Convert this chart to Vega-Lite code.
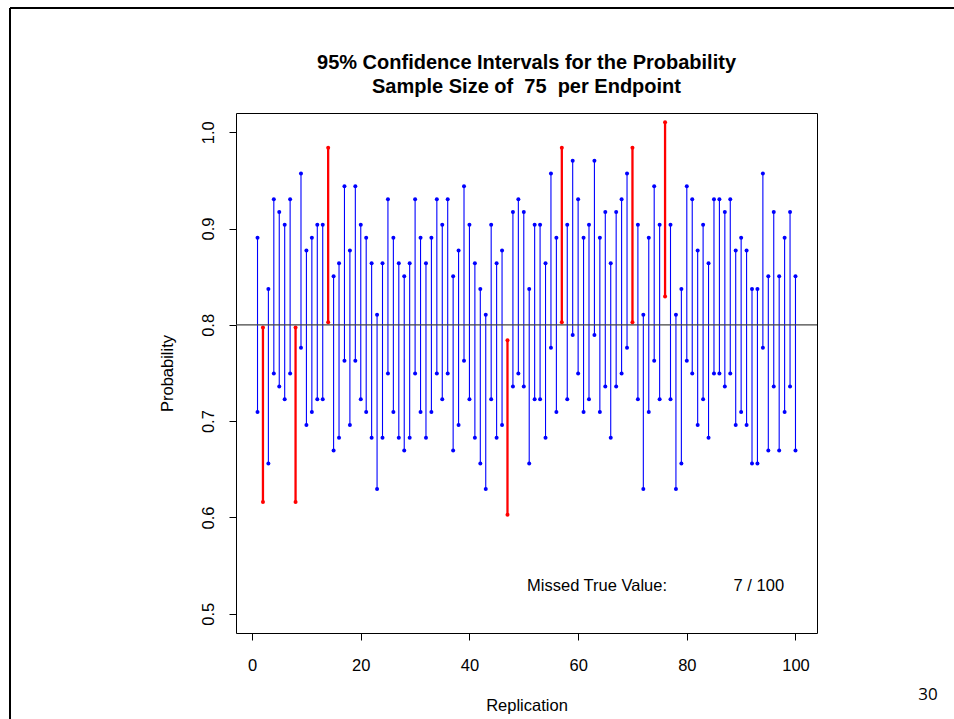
{
  "$schema": "https://vega.github.io/schema/vega-lite/v6.json",
  "width": 581,
  "height": 520,
  "autosize": {"type": "none"},
  "padding": {"left": 236, "top": 113, "right": 137, "bottom": 86},
  "background": "white",
  "config": {
    "font": "Liberation Sans",
    "view": {"stroke": "black", "strokeWidth": 1}
  },
  "title": {
    "text": ["95% Confidence Intervals for the Probability", "Sample Size of \u00a075 \u00a0per Endpoint"],
    "font": "Liberation Sans",
    "fontSize": 20,
    "fontWeight": "bold",
    "color": "black",
    "anchor": "middle",
    "frame": "group",
    "lineHeight": 24.5,
    "offset": 18,
    "dy": 108
  },
  "datasets": {
    "ci": [
      {"rep": 1, "lower": 0.7095, "upper": 0.8905},
      {"rep": 2, "lower": 0.6161, "upper": 0.7972},
      {"rep": 3, "lower": 0.6561, "upper": 0.8372},
      {"rep": 4, "lower": 0.7495, "upper": 0.9305},
      {"rep": 5, "lower": 0.7361, "upper": 0.9172},
      {"rep": 6, "lower": 0.7228, "upper": 0.9039},
      {"rep": 7, "lower": 0.7495, "upper": 0.9305},
      {"rep": 8, "lower": 0.6161, "upper": 0.7972},
      {"rep": 9, "lower": 0.7761, "upper": 0.9572},
      {"rep": 10, "lower": 0.6961, "upper": 0.8772},
      {"rep": 11, "lower": 0.7095, "upper": 0.8905},
      {"rep": 12, "lower": 0.7228, "upper": 0.9039},
      {"rep": 13, "lower": 0.7228, "upper": 0.9039},
      {"rep": 14, "lower": 0.8028, "upper": 0.9839},
      {"rep": 15, "lower": 0.6695, "upper": 0.8505},
      {"rep": 16, "lower": 0.6828, "upper": 0.8639},
      {"rep": 17, "lower": 0.7628, "upper": 0.9439},
      {"rep": 18, "lower": 0.6961, "upper": 0.8772},
      {"rep": 19, "lower": 0.7628, "upper": 0.9439},
      {"rep": 20, "lower": 0.7228, "upper": 0.9039},
      {"rep": 21, "lower": 0.7095, "upper": 0.8905},
      {"rep": 22, "lower": 0.6828, "upper": 0.8639},
      {"rep": 23, "lower": 0.6295, "upper": 0.8105},
      {"rep": 24, "lower": 0.6828, "upper": 0.8639},
      {"rep": 25, "lower": 0.7495, "upper": 0.9305},
      {"rep": 26, "lower": 0.7095, "upper": 0.8905},
      {"rep": 27, "lower": 0.6828, "upper": 0.8639},
      {"rep": 28, "lower": 0.6695, "upper": 0.8505},
      {"rep": 29, "lower": 0.6828, "upper": 0.8639},
      {"rep": 30, "lower": 0.7495, "upper": 0.9305},
      {"rep": 31, "lower": 0.7095, "upper": 0.8905},
      {"rep": 32, "lower": 0.6828, "upper": 0.8639},
      {"rep": 33, "lower": 0.7095, "upper": 0.8905},
      {"rep": 34, "lower": 0.7495, "upper": 0.9305},
      {"rep": 35, "lower": 0.7228, "upper": 0.9039},
      {"rep": 36, "lower": 0.7495, "upper": 0.9305},
      {"rep": 37, "lower": 0.6695, "upper": 0.8505},
      {"rep": 38, "lower": 0.6961, "upper": 0.8772},
      {"rep": 39, "lower": 0.7628, "upper": 0.9439},
      {"rep": 40, "lower": 0.7228, "upper": 0.9039},
      {"rep": 41, "lower": 0.6828, "upper": 0.8639},
      {"rep": 42, "lower": 0.6561, "upper": 0.8372},
      {"rep": 43, "lower": 0.6295, "upper": 0.8105},
      {"rep": 44, "lower": 0.7228, "upper": 0.9039},
      {"rep": 45, "lower": 0.6828, "upper": 0.8639},
      {"rep": 46, "lower": 0.6961, "upper": 0.8772},
      {"rep": 47, "lower": 0.6028, "upper": 0.7839},
      {"rep": 48, "lower": 0.7361, "upper": 0.9172},
      {"rep": 49, "lower": 0.7495, "upper": 0.9305},
      {"rep": 50, "lower": 0.7361, "upper": 0.9172},
      {"rep": 51, "lower": 0.6561, "upper": 0.8372},
      {"rep": 52, "lower": 0.7228, "upper": 0.9039},
      {"rep": 53, "lower": 0.7228, "upper": 0.9039},
      {"rep": 54, "lower": 0.6828, "upper": 0.8639},
      {"rep": 55, "lower": 0.7761, "upper": 0.9572},
      {"rep": 56, "lower": 0.7095, "upper": 0.8905},
      {"rep": 57, "lower": 0.8028, "upper": 0.9839},
      {"rep": 58, "lower": 0.7228, "upper": 0.9039},
      {"rep": 59, "lower": 0.7895, "upper": 0.9705},
      {"rep": 60, "lower": 0.7495, "upper": 0.9305},
      {"rep": 61, "lower": 0.7095, "upper": 0.8905},
      {"rep": 62, "lower": 0.7228, "upper": 0.9039},
      {"rep": 63, "lower": 0.7895, "upper": 0.9705},
      {"rep": 64, "lower": 0.7095, "upper": 0.8905},
      {"rep": 65, "lower": 0.7361, "upper": 0.9172},
      {"rep": 66, "lower": 0.6828, "upper": 0.8639},
      {"rep": 67, "lower": 0.7361, "upper": 0.9172},
      {"rep": 68, "lower": 0.7495, "upper": 0.9305},
      {"rep": 69, "lower": 0.7761, "upper": 0.9572},
      {"rep": 70, "lower": 0.8028, "upper": 0.9839},
      {"rep": 71, "lower": 0.7228, "upper": 0.9039},
      {"rep": 72, "lower": 0.6295, "upper": 0.8105},
      {"rep": 73, "lower": 0.7095, "upper": 0.8905},
      {"rep": 74, "lower": 0.7628, "upper": 0.9439},
      {"rep": 75, "lower": 0.7228, "upper": 0.9039},
      {"rep": 76, "lower": 0.8295, "upper": 1.0105},
      {"rep": 77, "lower": 0.7228, "upper": 0.9039},
      {"rep": 78, "lower": 0.6295, "upper": 0.8105},
      {"rep": 79, "lower": 0.6561, "upper": 0.8372},
      {"rep": 80, "lower": 0.7628, "upper": 0.9439},
      {"rep": 81, "lower": 0.7495, "upper": 0.9305},
      {"rep": 82, "lower": 0.6961, "upper": 0.8772},
      {"rep": 83, "lower": 0.7228, "upper": 0.9039},
      {"rep": 84, "lower": 0.6828, "upper": 0.8639},
      {"rep": 85, "lower": 0.7495, "upper": 0.9305},
      {"rep": 86, "lower": 0.7495, "upper": 0.9305},
      {"rep": 87, "lower": 0.7361, "upper": 0.9172},
      {"rep": 88, "lower": 0.7495, "upper": 0.9305},
      {"rep": 89, "lower": 0.6961, "upper": 0.8772},
      {"rep": 90, "lower": 0.7095, "upper": 0.8905},
      {"rep": 91, "lower": 0.6961, "upper": 0.8772},
      {"rep": 92, "lower": 0.6561, "upper": 0.8372},
      {"rep": 93, "lower": 0.6561, "upper": 0.8372},
      {"rep": 94, "lower": 0.7761, "upper": 0.9572},
      {"rep": 95, "lower": 0.6695, "upper": 0.8505},
      {"rep": 96, "lower": 0.7361, "upper": 0.9172},
      {"rep": 97, "lower": 0.6695, "upper": 0.8505},
      {"rep": 98, "lower": 0.7095, "upper": 0.8905},
      {"rep": 99, "lower": 0.7361, "upper": 0.9172},
      {"rep": 100, "lower": 0.6695, "upper": 0.8505}
    ],
    "truth": [{"p": 0.8}],
    "noteLeft": [{"x": 50.6, "y": 0.5288, "label": "Missed True Value:"}],
    "noteRight": [{"x": 97.9, "y": 0.5288, "label": "7 / 100"}],
    "page": [{"x": 124.4, "y": 0.4156, "label": "30"}],
    "frame": [
      {"x": -44.55, "x2": 140, "y": 1.129, "y2": 1.129},
      {"x": -44.55, "x2": -44.55, "y": 1.129, "y2": 0.3}
    ]
  },
  "layer": [
    {
      "data": {"name": "ci"},
      "mark": {"type": "rule"},
      "encoding": {
        "x": {
          "field": "rep", "type": "quantitative",
          "scale": {"domain": [-2.96, 103.96], "nice": false, "zero": false},
          "axis": {
            "title": "Replication", "values": [0, 20, 40, 60, 80, 100],
            "domain": false, "grid": false, "ticks": true, "tickSize": 7, "tickColor": "black",
            "labelFontSize": 16.5, "labelColor": "black", "labelPadding": 17, "labelFont": "Liberation Sans",
            "titleFontSize": 16.5, "titleFontWeight": "normal", "titleColor": "black", "titlePadding": 24, "titleFont": "Liberation Sans"
          }
        },
        "y": {
          "field": "lower", "type": "quantitative",
          "scale": {"domain": [0.48, 1.02], "nice": false, "zero": false},
          "axis": {
            "title": "Probability", "values": [0.5, 0.6, 0.7, 0.8, 0.9, 1.0], "format": ".1f",
            "domain": false, "grid": false, "ticks": true, "tickSize": 7, "tickColor": "black",
            "labelFontSize": 16.5, "labelColor": "black", "labelAngle": 270, "labelAlign": "center", "labelBaseline": "alphabetic", "labelPadding": 16, "labelFont": "Liberation Sans",
            "titleFontSize": 16.5, "titleFontWeight": "normal", "titleColor": "black", "titlePadding": 25, "titleFont": "Liberation Sans"
          }
        },
        "y2": {"field": "upper"},
        "color": {"condition": {"test": "datum.upper < 0.8 || datum.lower > 0.8", "value": "#FF0000"}, "value": "#0000FF"},
        "strokeWidth": {"condition": {"test": "datum.upper < 0.8 || datum.lower > 0.8", "value": 2.3}, "value": 1.1}
      }
    },
    {
      "data": {"name": "ci"},
      "mark": {"type": "point", "filled": true, "opacity": 1, "size": 16},
      "encoding": {
        "x": {"field": "rep", "type": "quantitative"},
        "y": {"field": "lower", "type": "quantitative"},
        "color": {"condition": {"test": "datum.upper < 0.8 || datum.lower > 0.8", "value": "#FF0000"}, "value": "#0000FF"}
      }
    },
    {
      "data": {"name": "ci"},
      "mark": {"type": "point", "filled": true, "opacity": 1, "size": 16},
      "encoding": {
        "x": {"field": "rep", "type": "quantitative"},
        "y": {"field": "upper", "type": "quantitative"},
        "color": {"condition": {"test": "datum.upper < 0.8 || datum.lower > 0.8", "value": "#FF0000"}, "value": "#0000FF"}
      }
    },
    {
      "data": {"name": "truth"},
      "mark": {"type": "rule", "color": "#444444", "strokeWidth": 1.3},
      "encoding": {"y": {"field": "p", "type": "quantitative"}}
    },
    {
      "data": {"name": "noteLeft"},
      "mark": {"type": "text", "fontSize": 16.5, "font": "Liberation Sans", "color": "black", "baseline": "middle", "align": "left"},
      "encoding": {
        "x": {"field": "x", "type": "quantitative"},
        "y": {"field": "y", "type": "quantitative"},
        "text": {"field": "label"}
      }
    },
    {
      "data": {"name": "noteRight"},
      "mark": {"type": "text", "fontSize": 16.5, "font": "Liberation Sans", "color": "black", "baseline": "middle", "align": "right"},
      "encoding": {
        "x": {"field": "x", "type": "quantitative"},
        "y": {"field": "y", "type": "quantitative"},
        "text": {"field": "label"}
      }
    },
    {
      "data": {"name": "page"},
      "mark": {"type": "text", "fontSize": 17, "font": "Open Sans", "color": "black", "baseline": "middle", "align": "center"},
      "encoding": {
        "x": {"field": "x", "type": "quantitative"},
        "y": {"field": "y", "type": "quantitative"},
        "text": {"field": "label"}
      }
    },
    {
      "data": {"name": "frame"},
      "mark": {"type": "rule", "color": "black", "strokeWidth": 2},
      "encoding": {
        "x": {"field": "x", "type": "quantitative"},
        "x2": {"field": "x2"},
        "y": {"field": "y", "type": "quantitative"},
        "y2": {"field": "y2"}
      }
    }
  ]
}
